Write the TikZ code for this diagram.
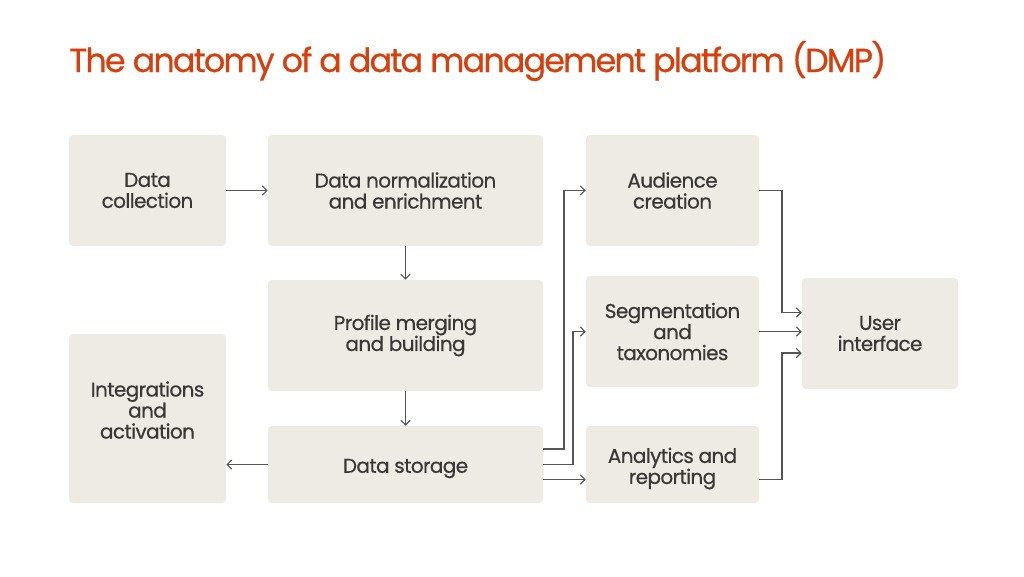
\documentclass[tikz,border=0pt]{standalone}
\usepackage{fontspec}
\setmainfont{Poppins}
\newfontfamily\titlefont{Poppins}[LetterSpace=-5.5, FakeBold=0.6]
\newfontfamily\boxfont{Poppins}[LetterSpace=-3, FakeBold=0.5]
\usetikzlibrary{arrows.meta,calc}
\definecolor{boxfill}{RGB}{238,235,229}
\definecolor{txt}{RGB}{58,56,54}
\definecolor{ttl}{RGB}{214,64,15}
\definecolor{ln}{RGB}{85,85,85}
\tikzset{
  box/.style={fill=boxfill, rounded corners=3pt, inner sep=0pt, align=center, text=txt,
    font=\boxfont\fontsize{15pt}{15.75pt}\selectfont},
  lbl/.style={inner sep=0pt, align=center, text=txt, font=\boxfont\fontsize{15pt}{15.75pt}\selectfont},
  arr/.style={draw=ln, line width=0.8pt, -{Straight Barb[length=3.5pt,width=7pt,line width=0.8pt]}},
}
\begin{document}
\begin{tikzpicture}[x=0.75pt,y=-0.75pt]
\useasboundingbox[fill=white] (0,0) rectangle (1024,576);
\node[anchor=base west, inner sep=0pt, text=ttl, font=\titlefont\fontsize{25pt}{30pt}\selectfont] (title) at (69,72) {The anatomy of a data management platform (DMP)};

\node[box, minimum width=117.75pt, minimum height=83.25pt] (dc) at (147.5,190.5) {Data\\collection};
\node[box, minimum width=206.25pt, minimum height=83.25pt] (dn) at (405.5,190.5) {Data normalization\\and enrichment};
\node[box, minimum width=206.25pt, minimum height=83.25pt] (pm) at (405.5,335.5) {Profile merging\\and building};
\node[box, minimum width=206.25pt, minimum height=57.75pt] (ds) at (405.5,464.5) {};
\node[lbl] (dst) at (405.5,468.5) {Data storage};
\node[box, minimum width=117.75pt, minimum height=126.75pt] (ia) at (147.5,418.5) {};
\node[lbl] (iat) at (147.5,410) {Integrations\\and\\activation};
\node[box, minimum width=129.75pt, minimum height=83.25pt] (ac) at (672.5,190.5) {Audience\\creation};
\node[box, minimum width=129.75pt, minimum height=83.25pt] (sg) at (672.5,331.5) {Segmentation\\and\\taxonomies};
\node[box, minimum width=129.75pt, minimum height=57.75pt] (ar) at (672.5,464.5) {};
\node[lbl] (art) at (672.5,468.5) {Analytics and\\reporting};
\node[box, minimum width=117pt, minimum height=83.25pt] (ui) at (880,333.5) {User\\interface};

\coordinate (k1) at (564,449);
\coordinate (k2) at (573,464.5);
\coordinate (k3) at (0,479.5);
\coordinate (k4) at (782,312.5);
\coordinate (k5) at (782,353);

\draw[arr] (dc.east) -- (dn.west);
\draw[arr] (dn.south) -- (pm.north);
\draw[arr] (pm.south) -- (ds.north);
\draw[arr] (ds.west) -- (ds.west -| ia.east);
\draw[arr] (k1 -| ds.east) -- (k1) |- (ac.west);
\draw[arr] (ds.east) -- (k2) |- (sg.west);
\draw[arr] (k3 -| ds.east) -- (k3 -| ar.west);
\draw[arr] (ac.east) -| (k4) -- (k4 -| ui.west);
\draw[arr] (sg.east) -- (sg.east -| ui.west);
\draw[arr] (k3 -| ar.east) -| (k5) -- (k5 -| ui.west);
\end{tikzpicture}
\end{document}
